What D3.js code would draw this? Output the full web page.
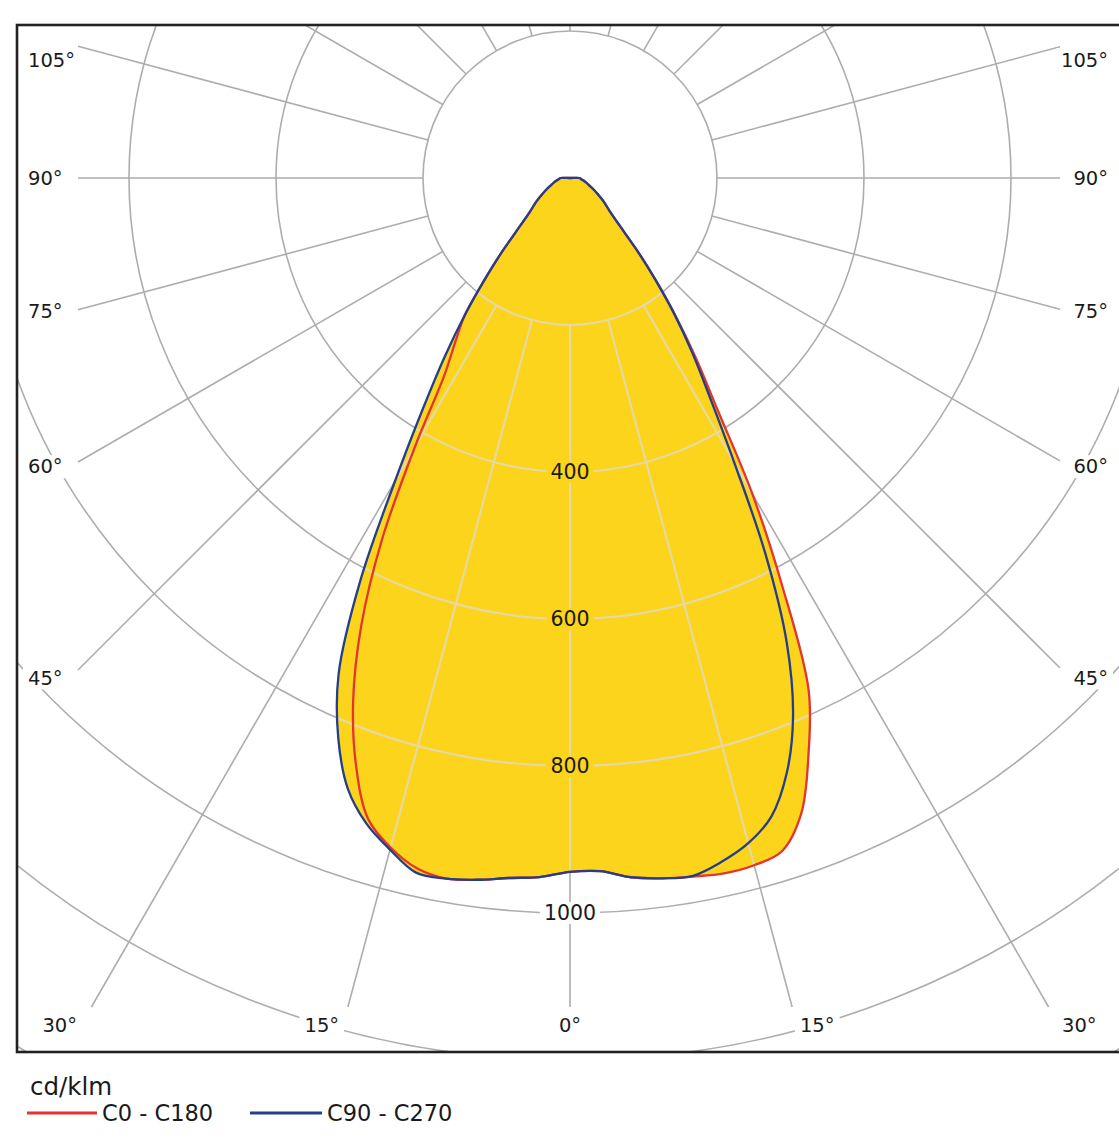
<!DOCTYPE html>
<html><head><meta charset="utf-8">
<script src="https://cdn.jsdelivr.net/npm/d3@7"></script>
<style>
html,body{margin:0;padding:0;background:#fff;}
svg{display:block;}
text{font-family:"DejaVu Sans", Verdana, sans-serif;fill:#1a1a1a;}
</style></head><body>
<svg id="chart" width="1119" height="1143"></svg>
<script>
// ---- data (cd/klm) ----
const gammas = [0,2.5,5,7.5,10,12.5,15,17.5,20,22.5,25,27.5,30,32.5,35,37.5,40,42.5,45,50,55,60,65,70,75,80,85,90];
const c0   = [944,944,955,961,965,969,968,960,920,848,768,625,496,373,298,235,181,139,105,71,56,43,34,27,22,18,15,13];
const c180 = [944,952,956,963,968,962,943,914,851,771,672,553,421,318,272,235,181,139,105,71,56,43,34,27,22,18,15,13];
const c90  = [944,944,955,961,964,953,937,911,862,793,698,575,447,355,290,233,181,139,105,71,56,43,34,27,22,18,15,13];
const c270 = [944,952,956,963,968,968,946,921,884,824,745,618,476,373,298,235,181,139,105,71,56,43,34,27,22,18,15,13];
const ringValues = [200,400,600,800,1000,1200,1400,1600];
const ringLabels = [400,600,800,1000];
const spokeAngles = [0,15,30,45,60,75,90,105,120,135,150,165,180,195,210,225,240,255,270,285,300,315,330,345];
const labelledAngles = [0,15,30,45,60,75,90,105];
const legendTitle = "cd/klm";
const seriesNames = ["C0 - C180","C90 - C270"];
const seriesColors = ["#e3342f","#233e8b"];

// ---- layout ----
const svg = d3.select("#chart");
const cx = 570, cy = 178;
const frame = {x:17, y:25, w:1112, h:1027};
const r = d3.scaleLinear().domain([0,1000]).range([0,735]);
const rad = d => d*Math.PI/180;

const defs = svg.append("defs");
defs.append("clipPath").attr("id","frameClip").append("rect")
  .attr("x",frame.x).attr("y",frame.y).attr("width",frame.w).attr("height",frame.h);

function curvePoints(right, left){
  const pts = [[Math.PI,0]];
  for(let i=gammas.length-1;i>=0;i--) if(right[i]>0) pts.push([Math.PI - rad(gammas[i]), right[i]]);
  for(let i=1;i<gammas.length;i++) if(left[i]>0) pts.push([Math.PI + rad(gammas[i]), left[i]]);
  return pts;
}
const line = d3.lineRadial().angle(d=>d[0]).radius(d=>r(d[1])).curve(d3.curveCatmullRomClosed.alpha(0.5));
const curves = [curvePoints(c0,c180), curvePoints(c90,c270)];

const cclip = defs.append("clipPath").attr("id","curveClip");
curves.forEach(p=>cclip.append("path").attr("d",line(p)).attr("transform",`translate(${cx},${cy})`));

function spokeEnd(s){
  const a = Math.abs(s);
  const dx = Math.sin(rad(s)), dy = Math.cos(rad(s));
  if(a>105) return 2000;
  let t = Infinity;
  if(dx<-1e-9) t=Math.min(t,(78-cx)/dx);
  if(dx>1e-9) t=Math.min(t,(1060-cx)/dx);
  if(dy>1e-9) t=Math.min(t,(1007-cy)/dy);
  return t;
}
const spokes = spokeAngles.map(a=>a>180?a-360:a);

function drawGrid(g, color, width){
  g.selectAll("circle").data(ringValues).join("circle")
    .attr("cx",cx).attr("cy",cy).attr("r",d=>r(d))
    .attr("fill","none").attr("stroke",color).attr("stroke-width",width);
  g.selectAll("line").data(spokes).join("line")
    .attr("x1",s=>cx+r(200)*Math.sin(rad(s))).attr("y1",s=>cy+r(200)*Math.cos(rad(s)))
    .attr("x2",s=>cx+spokeEnd(s)*Math.sin(rad(s))).attr("y2",s=>cy+spokeEnd(s)*Math.cos(rad(s)))
    .attr("stroke",color).attr("stroke-width",width);
}

const gridG = svg.append("g").attr("clip-path","url(#frameClip)");
drawGrid(gridG, "#adadad", 1.6);

// yellow fill
svg.append("g").selectAll("path").data(curves).join("path")
  .attr("d",d=>line(d)).attr("transform",`translate(${cx},${cy})`)
  .attr("fill","#fdd41c").attr("stroke","none");

// light grid on top of yellow
const lightG = svg.append("g").attr("clip-path","url(#curveClip)");
drawGrid(lightG, "#e3d9ad", 2);

// ring labels
const rl = svg.append("g").selectAll("g").data(ringLabels).join("g");
rl.each(function(v){
  const g = d3.select(this);
  const t = g.append("text").attr("x",cx).attr("y",cy+r(v)).attr("text-anchor","middle")
    .attr("dominant-baseline","central").attr("font-size",20.5).text(v);
  const b = t.node().getBBox();
  g.insert("rect","text").attr("x",b.x-4).attr("y",b.y+1).attr("width",b.width+8).attr("height",b.height-2)
    .attr("fill", v < c0[0] ? "#fdd41c" : "#ffffff");
});

// curves
svg.append("g").selectAll("path").data(curves).join("path")
  .attr("d",d=>line(d)).attr("transform",`translate(${cx},${cy})`)
  .attr("fill","none").attr("stroke",(d,i)=>seriesColors[i]).attr("stroke-width",2.3)
  .attr("stroke-linejoin","round");

// angle labels
const angLab = [];
labelledAngles.forEach(a=>{
  (a===0?[0]:[-a,a]).forEach(s=>{
    const dx=Math.sin(rad(s)), dy=Math.cos(rad(s));
    let tSide = Infinity;
    if(dx<-1e-9) tSide=(70-cx)/dx;
    if(dx>1e-9) tSide=(1070-cx)/dx;
    const ySide = cy + tSide*dy;
    if(dy>0 && ySide>1025 || Math.abs(dx)<1e-9){
      const t=(1025-cy)/dy;
      const x=cx+t*dx;
      angLab.push({txt:a+"°", x: s<0?x-4:(s>0?x+3:x), y:1025, anchor: s<0?"end":(s>0?"start":"middle")});
    } else {
      angLab.push({txt:a+"°", x: s<0?28:1108, y:Math.max(ySide,60), anchor: s<0?"start":"end"});
    }
  });
});
const al = svg.append("g").selectAll("g").data(angLab).join("g");
al.each(function(d){
  const g=d3.select(this);
  const t=g.append("text").attr("x",d.x).attr("y",d.y).attr("text-anchor",d.anchor)
    .attr("dominant-baseline","central").attr("font-size",19.5).text(d.txt);
  const b=t.node().getBBox();
  g.insert("rect","text").attr("x",b.x-5).attr("y",b.y).attr("width",b.width+10).attr("height",b.height).attr("fill","#fff");
});

// frame
svg.append("rect").attr("x",frame.x).attr("y",frame.y).attr("width",frame.w).attr("height",frame.h)
  .attr("fill","none").attr("stroke","#222").attr("stroke-width",2.6);

// legend
svg.append("text").attr("x",30).attr("y",1095).attr("font-size",24.5).text(legendTitle);
const lg = svg.append("g").selectAll("g").data(seriesNames).join("g")
  .attr("transform",(d,i)=>`translate(${[27,250][i]},1113)`);
lg.append("line").attr("x1",0).attr("x2",(d,i)=>[70,72][i]).attr("y1",0).attr("y2",0)
  .attr("stroke",(d,i)=>seriesColors[i]).attr("stroke-width",3);
lg.append("text").attr("x",(d,i)=>[75,77][i]).attr("y",0).attr("dominant-baseline","central")
  .attr("font-size",22.5).text(d=>d);
</script>
</body></html>
